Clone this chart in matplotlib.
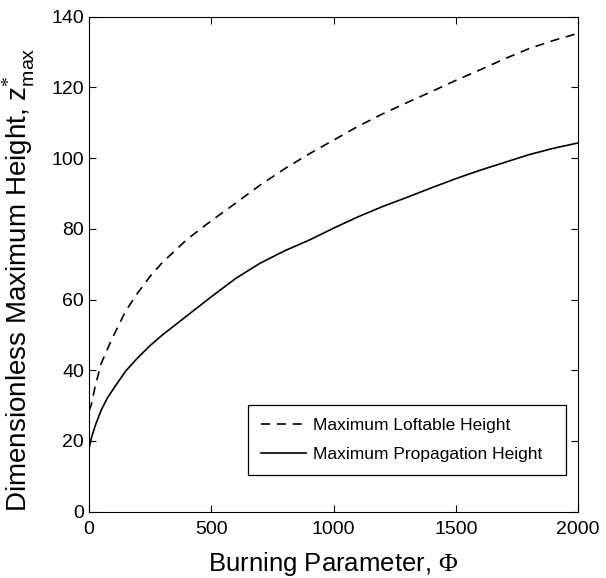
import matplotlib
matplotlib.use("Agg")
import matplotlib.pyplot as plt

plt.rcParams['font.family'] = ['Liberation Sans', 'DejaVu Sans']
plt.rcParams['mathtext.fontset'] = 'custom'
plt.rcParams['mathtext.rm'] = 'Liberation Serif'
plt.rcParams['mathtext.it'] = 'Liberation Sans'
plt.rcParams['mathtext.sf'] = 'Liberation Sans'

phi = [0, 10, 25, 50, 75, 100, 150, 200, 250, 300, 400, 500, 600, 700, 800, 900,
       1000, 1100, 1200, 1300, 1400, 1500, 1600, 1700, 1800, 1900, 2000]
loftable = [28.5, 30.5, 35.5, 42.0, 46.0, 49.8, 56.8, 62.0, 66.6, 70.5, 77.0, 82.3,
            87.3, 92.4, 97.0, 101.2, 105.1, 109.0, 112.5, 115.7, 118.8, 122.0,
            125.0, 128.1, 131.0, 133.3, 135.3]
propagation = [18.0, 21.0, 24.3, 28.8, 32.2, 34.8, 39.8, 43.6, 47.0, 50.0, 55.4, 60.8,
               66.0, 70.3, 73.8, 76.8, 80.2, 83.4, 86.3, 88.9, 91.6, 94.2,
               96.6, 98.8, 101.0, 102.8, 104.3]

xticks = [0, 500, 1000, 1500, 2000]
yticks = [0, 20, 40, 60, 80, 100, 120, 140]

fig = plt.figure(figsize=(6.06, 5.78), dpi=100)
ax = fig.add_axes([0.147, 0.1147, 0.807, 0.8564])
ax.plot(phi, loftable, 'k--', lw=1.2, dashes=(5.5, 4), label='Maximum Loftable Height')
ax.plot(phi, propagation, 'k-', lw=1.2, label='Maximum Propagation Height')
ax.set_xlim(0, 2000)
ax.set_ylim(0, 140)
ax.set_xticks(xticks)
ax.set_yticks(yticks)
ax.tick_params(direction='in', top=True, right=True, labelsize=14, length=5)
ax.tick_params(axis='x', pad=7)
ax.set_xlabel(r'Burning Parameter, $\Phi$', fontsize=18.5, labelpad=8)
ax.set_ylabel(r'Dimensionless Maximum Height, $\mathsf{z}^{*}_{\mathsf{max}}$',
              fontsize=20)
ax.yaxis.set_label_coords(-0.106, 0.468)
leg = ax.legend(loc='center', bbox_to_anchor=(0.409, 0.1765, 0.525, 0.1245),
                bbox_transform=fig.transFigure, mode='expand', fontsize=12.5,
                fancybox=False, edgecolor='black', framealpha=1, borderpad=0.75,
                handlelength=2.6, handletextpad=0.4, labelspacing=0.75,
                borderaxespad=0)
leg.get_frame().set_linewidth(0.9)
fig.savefig('out.png', dpi=100)
